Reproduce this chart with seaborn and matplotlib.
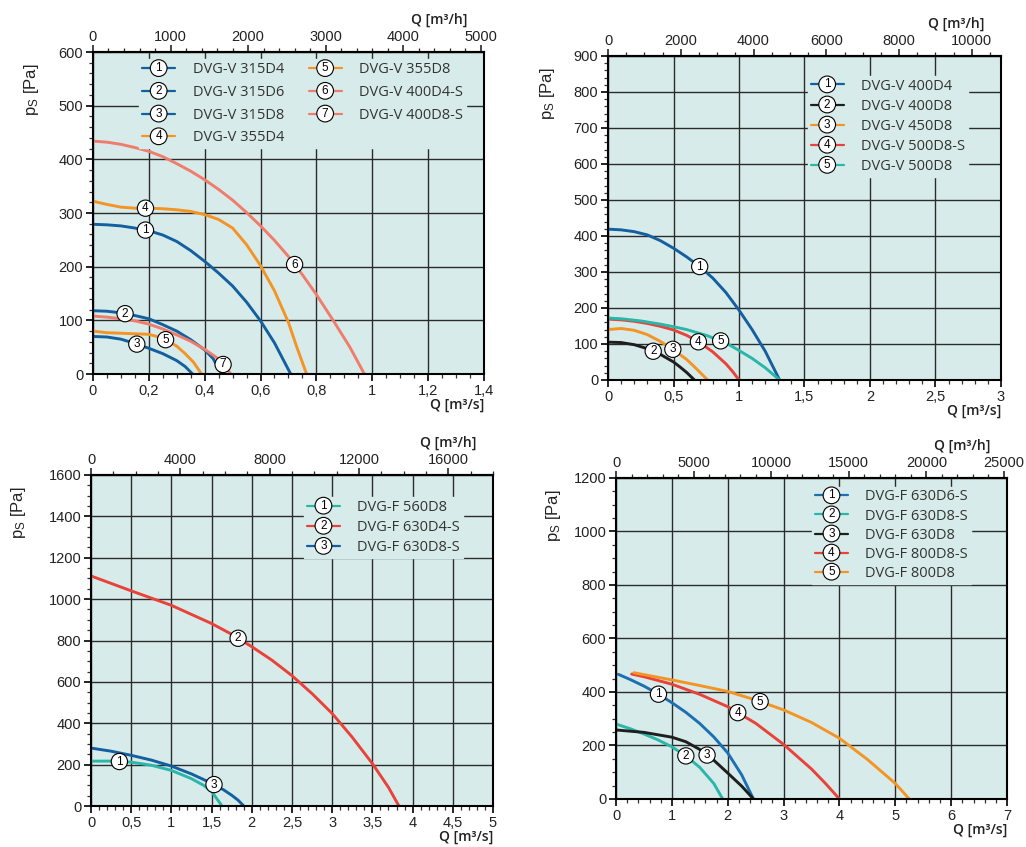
import matplotlib
matplotlib.use("Agg")
import matplotlib.pyplot as plt
import numpy as np
import pandas as pd
import seaborn as sns
from matplotlib.legend_handler import HandlerBase
from matplotlib.lines import Line2D
from matplotlib.text import Text
from matplotlib.ticker import FixedLocator, FuncFormatter, MultipleLocator

# ---- panel 1: DVG-V 315 / 355 / 400-S ----
p1_names = ["DVG-V 315D4", "DVG-V 315D6", "DVG-V 315D8", "DVG-V 355D4",
            "DVG-V 355D8", "DVG-V 400D4-S", "DVG-V 400D8-S"]
p1_q = [
    [0, 0.05, 0.1, 0.15, 0.2, 0.25, 0.3, 0.35, 0.4, 0.45, 0.5, 0.55, 0.6, 0.65, 0.708],
    [0, 0.05, 0.1, 0.15, 0.2, 0.25, 0.3, 0.35, 0.4, 0.43, 0.461],
    [0, 0.05, 0.1, 0.15, 0.2, 0.25, 0.3, 0.33, 0.357],
    [0, 0.05, 0.1, 0.15, 0.2, 0.25, 0.3, 0.35, 0.4, 0.45, 0.5, 0.55, 0.6, 0.65, 0.7, 0.73, 0.765],
    [0, 0.05, 0.1, 0.15, 0.2, 0.25, 0.3, 0.33, 0.36, 0.389],
    [0, 0.05, 0.1, 0.15, 0.2, 0.25, 0.3, 0.35, 0.4, 0.45, 0.5, 0.55, 0.6, 0.65, 0.7,
     0.75, 0.8, 0.86, 0.92, 0.972],
    [0, 0.05, 0.1, 0.15, 0.2, 0.25, 0.3, 0.35, 0.4, 0.45, 0.494],
]
p1_ps = [
    [279, 278, 276, 272, 267, 259, 247, 230, 210, 188, 164, 134, 99, 58, 0],
    [118, 117, 114, 109, 103, 92, 80, 64, 45, 29, 0],
    [70, 69, 65, 57, 48, 38, 25, 14, 0],
    [322, 316, 311, 309, 309, 308, 306, 303, 297, 288, 272, 241, 202, 155, 96, 50, 0],
    [80, 77, 76, 75, 74, 67, 52, 38, 22, 0],
    [434, 432, 428, 422, 415, 405, 392, 378, 362, 344, 324, 301, 276, 249, 219,
     185, 148, 100, 50, 0],
    [108, 106, 103, 99, 93, 84, 73, 61, 46, 28, 0],
]
p1_label_q = [0.188, 0.115, 0.157, 0.188, 0.26, 0.722, 0.466]

# ---- panel 2: DVG-V 400 / 450 / 500 ----
p2_names = ["DVG-V 400D4", "DVG-V 400D8", "DVG-V 450D8", "DVG-V 500D8-S", "DVG-V 500D8"]
p2_q = [
    [0, 0.1, 0.2, 0.3, 0.4, 0.5, 0.6, 0.7, 0.8, 0.9, 1.0, 1.1, 1.2, 1.31],
    [0, 0.1, 0.2, 0.3, 0.4, 0.5, 0.55, 0.6, 0.66],
    [0, 0.1, 0.2, 0.3, 0.4, 0.5, 0.6, 0.65, 0.7, 0.76],
    [0, 0.1, 0.2, 0.3, 0.4, 0.5, 0.6, 0.7, 0.8, 0.9, 0.95, 1.0],
    [0, 0.1, 0.25, 0.4, 0.5, 0.6, 0.75, 0.9, 1.0, 1.1, 1.2, 1.31],
]
p2_ps = [
    [419, 417, 412, 403, 387, 366, 342, 315, 283, 243, 194, 140, 80, 0],
    [105, 104, 98, 87, 71, 50, 36, 21, 0],
    [140, 143, 138, 126, 107, 84, 57, 40, 22, 0],
    [169, 167, 163, 157, 149, 139, 124, 104, 78, 45, 24, 0],
    [172, 170, 164, 155, 148, 140, 124, 103, 82, 60, 34, 0],
]
p2_label_q = [0.7, 0.345, 0.495, 0.69, 0.86]

# ---- panel 3: DVG-F 560 / 630 ----
p3_names = ["DVG-F 560D8", "DVG-F 630D4-S", "DVG-F 630D8-S"]
p3_q = [
    [0, 0.25, 0.5, 0.75, 1.0, 1.25, 1.4, 1.5, 1.63],
    [0, 0.5, 1.0, 1.5, 1.75, 2.0, 2.25, 2.5, 2.75, 3.0, 3.25, 3.5, 3.7, 3.83],
    [0, 0.25, 0.5, 0.75, 1.0, 1.25, 1.5, 1.65, 1.75, 1.83, 1.9],
]
p3_ps = [
    [217, 217, 212, 197, 172, 132, 100, 70, 0],
    [1112, 1040, 970, 882, 830, 770, 705, 630, 543, 447, 332, 205, 90, 0],
    [280, 265, 245, 222, 193, 155, 110, 78, 52, 28, 0],
]
p3_label_q = [0.353, 1.83, 1.53]

# ---- panel 4: DVG-F 630 / 800 ----
p4_names = ["DVG-F 630D6-S", "DVG-F 630D8-S", "DVG-F 630D8", "DVG-F 800D8-S", "DVG-F 800D8"]
p4_q = [
    [0.04, 0.25, 0.5, 0.75, 1.0, 1.25, 1.5, 1.75, 2.0, 2.25, 2.46],
    [0, 0.25, 0.5, 0.75, 1.0, 1.25, 1.5, 1.75, 1.91],
    [0, 0.5, 1.0, 1.25, 1.5, 1.75, 2.0, 2.25, 2.46],
    [0.28, 0.5, 1.0, 1.5, 2.0, 2.5, 3.0, 3.5, 3.75, 4.0],
    [0.32, 1.0, 1.5, 2.0, 2.5, 3.0, 3.5, 4.0, 4.5, 5.0, 5.25],
]
p4_ps = [
    [466, 447, 422, 393, 360, 324, 282, 232, 172, 90, 0],
    [280, 263, 243, 221, 195, 161, 118, 58, 0],
    [258, 249, 231, 214, 185, 145, 97, 48, 0],
    [467, 457, 429, 391, 345, 283, 204, 112, 58, 0],
    [472, 445, 424, 402, 370, 333, 286, 227, 148, 58, 0],
]
p4_label_q = [0.76, 1.25, 1.63, 2.18, 2.58]

BLUE = "#135f9f"
ORANGE = "#f39425"
SALMON = "#f07c6c"
BLACK = "#1e1e1e"
RED = "#e8423a"
TEAL = "#2ab6a8"
BG = "#d7ecea"
TXT = "#222222"

sns.set_theme(style="ticks")
plt.rcParams["font.family"] = ["Liberation Sans", "DejaVu Sans"]
plt.rcParams["mathtext.fontset"] = "custom"
plt.rcParams["mathtext.rm"] = "Liberation Sans"
plt.rcParams["mathtext.it"] = "Liberation Sans"
plt.rcParams["mathtext.default"] = "regular"


class CircledNumberHandler(HandlerBase):
    # legend key: coloured line with a circled number in the middle
    def create_artists(self, legend, orig_handle, xdescent, ydescent,
                       width, height, fontsize, trans):
        y = height / 2 - ydescent
        line = Line2D([-xdescent, width - xdescent], [y, y],
                      color=orig_handle.get_color(), lw=orig_handle.get_linewidth(),
                      transform=trans)
        num = Text(width / 2 - xdescent, y, orig_handle.get_label(), ha="center",
                   va="center", fontsize=8.5, color="black", transform=trans,
                   bbox=dict(boxstyle="circle,pad=0.2", fc="white", ec="black", lw=0.8))
        return [line, num]


def comma(v, _pos):
    return f"{v:g}".replace(".", ",")


def draw_panel(ax, names, qs, pss, label_q, colors, xmax, ymax,
               xgrid, ygrid, xminor, yminor, hminor, hmajor,
               legend_anchor, labelspacing, ylabel_dx=-61, ncol=1, colspace=1.7):
    rows = []
    for name, q, ps in zip(names, qs, pss):
        for a, b in zip(q, ps):
            rows.append({"fan": name, "Q": a, "ps": b})
    df = pd.DataFrame(rows)
    ax.set_facecolor(BG)
    ax.grid(True, color="#2b2b2b", lw=1.0)
    ax.set_axisbelow(True)
    sns.lineplot(data=df, x="Q", y="ps", hue="fan", hue_order=names,
                 palette=dict(zip(names, colors)), estimator=None, sort=False,
                 legend=False, lw=2.1, ax=ax)

    ax.set_xlim(0, xmax)
    ax.set_ylim(0, ymax)
    ax.xaxis.set_major_locator(MultipleLocator(xgrid))
    ax.xaxis.set_minor_locator(MultipleLocator(xminor))
    ax.yaxis.set_major_locator(MultipleLocator(ygrid))
    ax.yaxis.set_minor_locator(MultipleLocator(yminor))
    ax.xaxis.set_major_formatter(FuncFormatter(comma))
    ax.tick_params(which="major", length=5, width=1.2, color="black",
                   labelsize=10.5, pad=2, labelcolor=TXT)
    ax.tick_params(which="minor", length=3, width=0.9, color="#333333")
    for sp in ax.spines.values():
        sp.set_color("black")
        sp.set_linewidth(1.5)
    ax.set_xlabel("")
    ax.set_ylabel("")

    # second scale on top: m3/h
    hlim = xmax * 3600
    top = ax.secondary_xaxis("top", functions=(lambda x: x * 3600, lambda x: x / 3600))
    top.xaxis.set_major_locator(FixedLocator(np.arange(0, hlim + 1, hmajor)))
    top.xaxis.set_minor_locator(FixedLocator(np.arange(0, hlim + 1, hminor)))
    top.xaxis.set_major_formatter(FuncFormatter(lambda v, p: f"{v:.0f}"))
    top.tick_params(which="major", length=5, width=1.2, labelsize=10.5, pad=1,
                    labelcolor=TXT)
    top.tick_params(which="minor", length=3, width=0.9)
    top.spines["top"].set_linewidth(1.5)

    ax.annotate("Q [m\u00b3/h]", xy=(1, 1), xycoords="axes fraction",
                xytext=(-12, 23), textcoords="offset points", ha="right", va="center",
                fontsize=10, family="Open Sans", fontweight="semibold", color=TXT)
    ax.annotate("Q [m\u00b3/s]", xy=(1, 0), xycoords="axes fraction",
                xytext=(0, -22), textcoords="offset points", ha="right", va="center",
                fontsize=10, family="Open Sans", fontweight="semibold", color=TXT)
    ax.annotate("p$_S$ [Pa]", xy=(0, 1), xycoords="axes fraction",
                xytext=(ylabel_dx * 0.72, -8), textcoords="offset points",
                ha="center", va="top", rotation=90, fontsize=12, color=TXT)

    # circled curve numbers
    for i, (q, ps, lq) in enumerate(zip(qs, pss, label_q)):
        ly = np.interp(lq, q, ps)
        ax.text(lq, ly, str(i + 1), ha="center", va="center", fontsize=8.5,
                color="black", zorder=5,
                bbox=dict(boxstyle="circle,pad=0.18", fc="white", ec="black", lw=0.8))

    handles = [Line2D([], [], color=c, lw=1.6, label=str(i + 1))
               for i, c in enumerate(colors)]
    leg = ax.legend(handles, names, loc="upper left", bbox_to_anchor=legend_anchor,
                    ncol=ncol, frameon=True, facecolor=BG, edgecolor=BG, framealpha=1,
                    fancybox=False, handlelength=2.25, handletextpad=1.2,
                    labelspacing=labelspacing, columnspacing=colspace, borderpad=0.2,
                    handler_map={Line2D: CircledNumberHandler()},
                    prop={"family": "Open Sans", "size": 10.5})
    for t in leg.get_texts():
        t.set_color("#333333")
    leg.set_zorder(4)


fig = plt.figure(figsize=(10.26, 8.47), dpi=100)
ax1 = fig.add_axes([0.0906, 0.5584, 0.3811, 0.3802])
ax2 = fig.add_axes([0.5926, 0.5514, 0.3830, 0.3825])
ax3 = fig.add_axes([0.0887, 0.0484, 0.3918, 0.3908])
ax4 = fig.add_axes([0.6004, 0.0567, 0.3811, 0.3790])

draw_panel(ax1, p1_names, p1_q, p1_ps, p1_label_q,
           [BLUE, BLUE, BLUE, ORANGE, ORANGE, SALMON, SALMON],
           1.4, 600, 0.2, 100, 0.05, 20, 200, 1000, (0.1, 1.0), 0.53, ncol=2)
draw_panel(ax2, p2_names, p2_q, p2_ps, p2_label_q,
           [BLUE, BLACK, ORANGE, RED, TEAL],
           3, 900, 0.5, 100, 0.1, 20, 500, 2000, (0.49, 0.962), 0.35)
draw_panel(ax3, p3_names, p3_q, p3_ps, p3_label_q,
           [TEAL, RED, BLUE],
           5, 1600, 0.5, 200, 0.1, 50, 1000, 4000, (0.512, 0.956), 0.35, ylabel_dx=-73)
draw_panel(ax4, p4_names, p4_q, p4_ps, p4_label_q,
           ["#1c6fb2", TEAL, BLACK, RED, ORANGE],
           7, 1200, 1, 200, 0.2, 50, 1000, 5000, (0.483, 0.996), 0.28, ylabel_dx=-63)

fig.savefig("out.png", dpi=100, facecolor="white")
plt.close(fig)
